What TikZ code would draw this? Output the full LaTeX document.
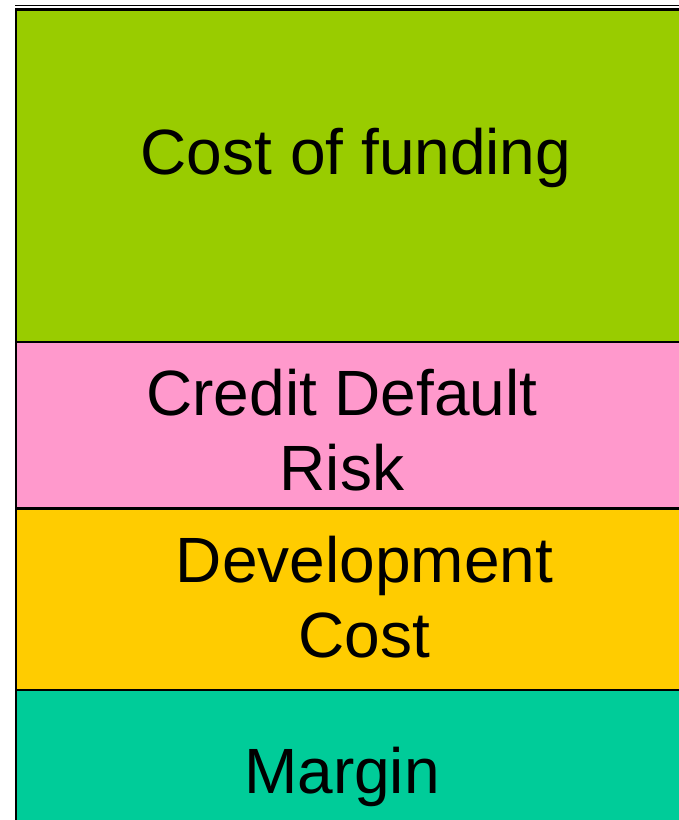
\documentclass[tikz,border=0pt]{standalone}
\usepackage{fontspec}
\setmainfont{Liberation Sans}
\definecolor{fundgreen}{HTML}{99CC00}
\definecolor{riskpink}{HTML}{FF99CC}
\definecolor{devorange}{HTML}{FFCC00}
\definecolor{margteal}{HTML}{00CC99}
\begin{document}
\begin{tikzpicture}[x=1pt,y=-1pt,
  band/.style={draw=black,line width=2.5pt},
  lbl/.style={font=\fontsize{64}{75}\selectfont,align=center,anchor=base,inner sep=0pt,text=black}]
\useasboundingbox (0,0) rectangle (679,820);
\fill[white] (0,0) rectangle (679,820);
\draw[black,line width=1.5pt] (15,5.5) -- (690,5.5);
\filldraw[band,fill=fundgreen] (16,9.5) rectangle (700,342);
\filldraw[band,fill=riskpink] (16,342) rectangle (700,508.5);
\filldraw[band,fill=devorange] (16,508.5) rectangle (700,690);
\filldraw[band,fill=margteal] (16,690) rectangle (700,840);
\node[lbl] (fund) at (356,174) {Cost of funding};
\node[lbl] (risk) at (342,490) {Credit Default\\Risk};
\node[lbl] (dev) at (364.5,657) {Development\\Cost};
\node[lbl] (marg) at (342,793) {Margin};
\end{tikzpicture}
\end{document}
